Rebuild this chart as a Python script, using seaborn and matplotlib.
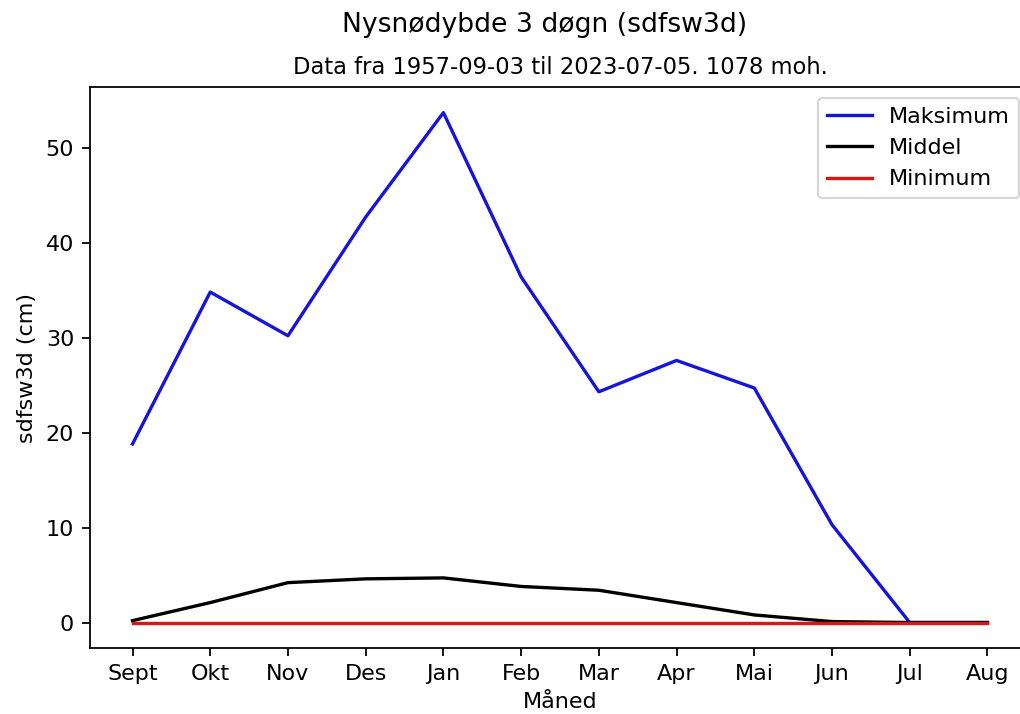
import pandas as pd
import numpy as np
import seaborn as sns
import matplotlib
matplotlib.use("Agg")
from matplotlib import pyplot as plt

# monthly stats for sdfsw3d, season starting in September
maaneder = ["Sept", "Okt", "Nov", "Des", "Jan", "Feb", "Mar", "Apr", "Mai", "Jun", "Jul", "Aug"]
maksimum = [18.8, 34.8, 30.2, 42.7, 53.7, 36.4, 24.3, 27.6, 24.7, 10.3, 0.0, 0.0]
middel = [0.2, 2.1, 4.2, 4.6, 4.7, 3.8, 3.4, 2.1, 0.8, 0.1, 0.0, 0.0]
minimum = [0.0, 0.0, 0.0, 0.0, 0.0, 0.0, 0.0, 0.0, 0.0, 0.0, 0.0, 0.0]

data = pd.DataFrame({"Måned": maaneder, "Maksimum": maksimum,
                     "Middel": middel, "Minimum": minimum})
data = pd.melt(data, id_vars="Måned", var_name="serie", value_name="verdi")

plt.rcParams["font.family"] = ["DejaVu Sans"]

fig, ax = plt.subplots(figsize=(6.375, 4.4625), dpi=160)
sns.lineplot(data=data, x="Måned", y="verdi", hue="serie", sort=False,
             palette={"Maksimum": "#1414dc", "Middel": "black", "Minimum": "#dc1414"},
             linewidth=1.5, ax=ax)

fig.suptitle("Nysnødybde 3 døgn (sdfsw3d)", fontsize=12, x=0.534, y=0.983)
ax.set_title("Data fra 1957-09-03 til 2023-07-05. 1078 moh.", fontsize=10.2)
ax.set_xlabel("Måned")
ax.set_ylabel("sdfsw3d (cm)")
ax.set_yticks([0, 10, 20, 30, 40, 50])
ax.legend(title=None, loc="upper right")

plt.subplots_adjust(left=0.088, right=1.01, top=0.878, bottom=0.0924)
plt.savefig("out.png", dpi=160)
